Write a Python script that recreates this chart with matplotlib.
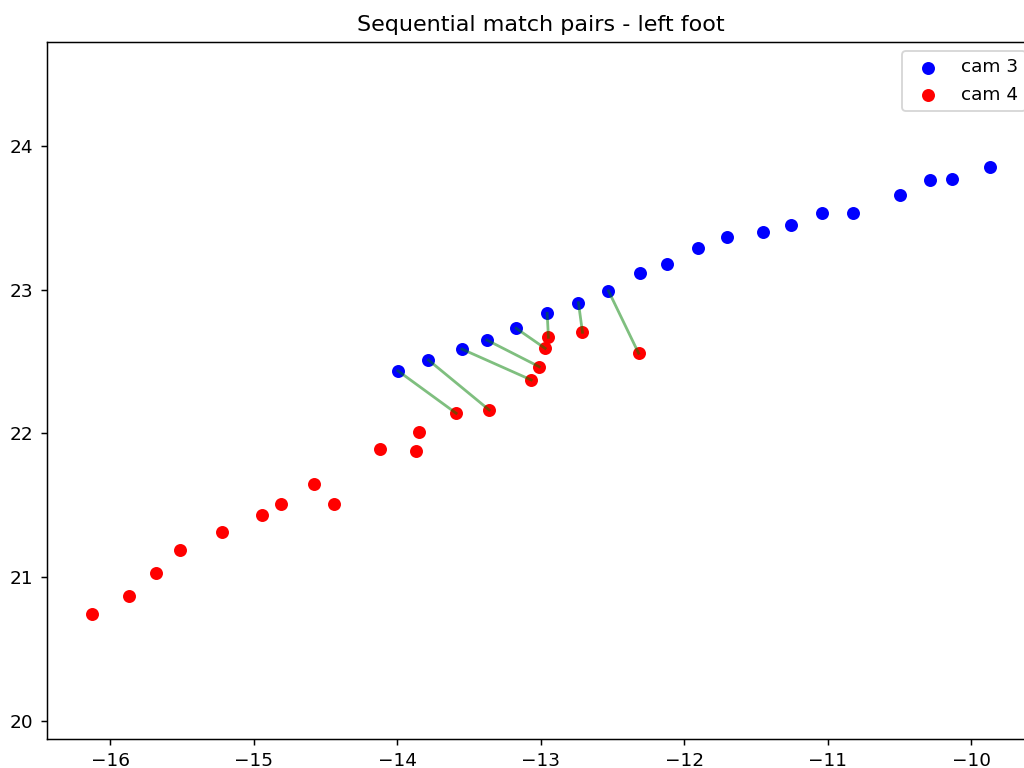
import numpy as np
import matplotlib
matplotlib.use('Agg')
import matplotlib.pyplot as plt

# cam 3 foot positions (x, y)
cam3_x = [-13.995, -13.782, -13.549, -13.375, -13.171, -12.955, -12.737, -12.528,
          -12.305, -12.121, -11.907, -11.702, -11.452, -11.259, -11.043, -10.822,
          -10.500, -10.286, -10.134, -9.868]
cam3_y = [22.437, 22.512, 22.588, 22.651, 22.733, 22.837, 22.911, 22.994,
          23.116, 23.180, 23.292, 23.366, 23.403, 23.450, 23.533, 23.533,
          23.663, 23.763, 23.774, 23.858]

# cam 4 foot positions (x, y)
cam4_x = [-16.128, -15.868, -15.682, -15.514, -15.220, -14.941, -14.810, -14.580,
          -14.439, -14.116, -13.872, -13.845, -13.589, -13.359, -13.066, -13.010,
          -12.969, -12.946, -12.709, -12.318]
cam4_y = [20.741, 20.870, 21.026, 21.187, 21.314, 21.435, 21.511, 21.650,
          21.509, 21.890, 21.880, 22.010, 22.141, 22.164, 22.373, 22.465,
          22.593, 22.670, 22.705, 22.559]

# matched pairs: (cam 3 index, cam 4 index)
pairs = [(0, 12), (1, 13), (2, 14), (3, 15), (4, 16), (5, 17), (6, 18), (7, 19)]

dpi = 1024 / 7.68
fig = plt.figure(figsize=(7.68, 5.76), dpi=dpi)
ax = fig.add_axes([0.0456, 0.0374, 0.9654, 0.9083])

ax.scatter(cam3_x, cam3_y, c='blue', label='cam 3')
ax.scatter(cam4_x, cam4_y, c='red', label='cam 4')

for i, j in pairs:
    ax.plot([cam3_x[i], cam4_x[j]], [cam3_y[i], cam4_y[j]], color='green', alpha=0.5)

ax.axis('equal')
ax.set_title('Sequential match pairs - left foot')
ax.legend(loc='upper right')

fig.savefig('out.png', dpi=dpi)
